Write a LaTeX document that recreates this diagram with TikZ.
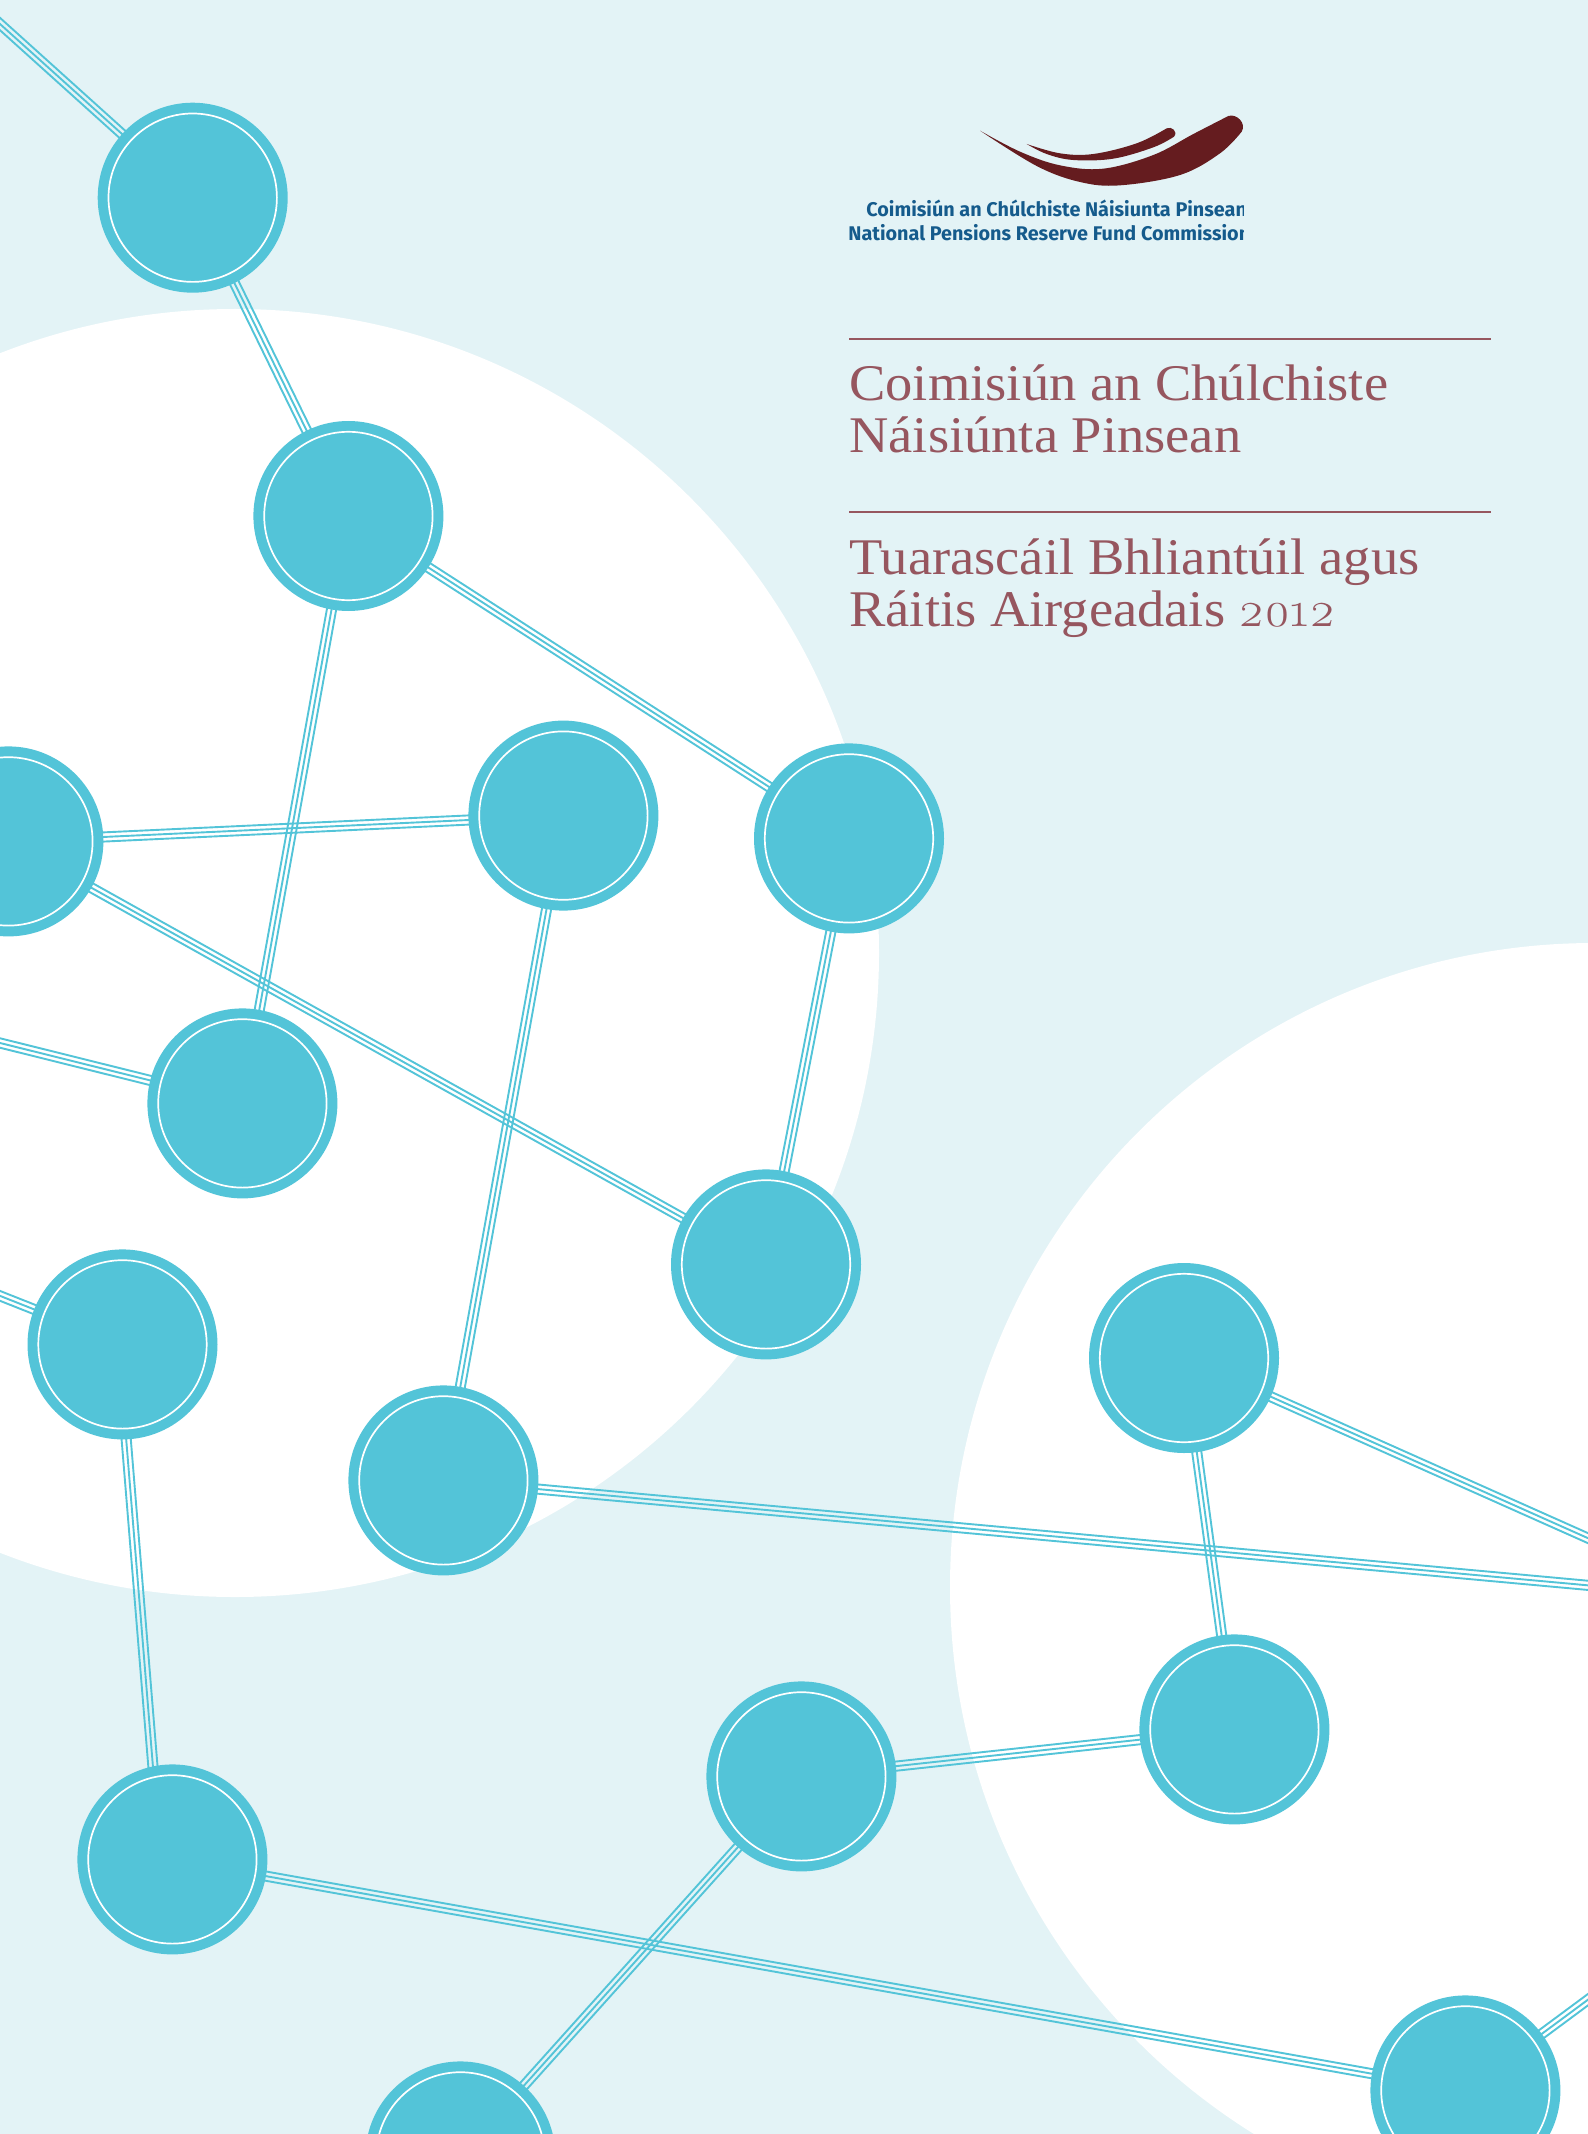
\documentclass[tikz,border=0pt]{standalone}
\usepackage{fontspec}
\usetikzlibrary{calc}
\setmainfont[FakeStretch=1.06]{Liberation Serif}
\newfontfamily\logofont{Fira Sans}
\newfontfamily\osf[Numbers=OldStyle]{Latin Modern Roman}
\definecolor{pale}{HTML}{E3F3F6}
\definecolor{teal}{HTML}{53C4D8}
\definecolor{rose}{HTML}{96565F}
\definecolor{maroon}{HTML}{651C1F}
\definecolor{logoblue}{HTML}{155B8C}
\tikzset{
  hub/.style={circle,fill=teal,draw=none,minimum size=95pt,inner sep=0pt},
  hubring/.style={white,line width=0.85pt},
  strand/.style={teal,line width=0.95pt},
  title/.style={anchor=base west,inner sep=0pt,text=rose,font=\fontsize{25.7pt}{30pt}\selectfont},
  logotext/.style={anchor=base west,inner sep=0pt,text=logoblue,font=\logofont\bfseries\fontsize{9.9pt}{11pt}\selectfont},
  rulebar/.style={rose,line width=1.2pt}
}
\newcommand{\triple}[2]{%
  \draw[strand] ($(#1)!2.3pt!90:(#2)$) -- ($(#2)!2.3pt!-90:(#1)$);
  \draw[strand] (#1) -- (#2);
  \draw[strand] ($(#1)!2.3pt!-90:(#2)$) -- ($(#2)!2.3pt!90:(#1)$);}
\begin{document}
\begin{tikzpicture}[x=0.5pt,y=-0.5pt]
\useasboundingbox (0,0) rectangle (1588,2134);
\clip (0,0) rectangle (1588,2134);
\fill[pale] (0,0) rectangle (1588,2134);
\fill[white] (235,953) circle (322pt);
\fill[white] (1594,1587) circle (322pt);
% free ends
\coordinate (e1) at (-20,6);
\coordinate (e6) at (-40,1033);
\coordinate (e8) at (-40,1280);
\coordinate (e9) at (1628,1589);
\coordinate (e10) at (1628,1556);
\coordinate (e14) at (1628,1970);
\coordinate (h8a) at (118.4,1344);
\coordinate (h13a) at (160.5,1859);
\path
 (192.7,197.7) coordinate (h1)
 (348.4,516) coordinate (h2)
 (8.4,841.4) coordinate (h3)
 (563.4,815.6) coordinate (h4)
 (849,838.4) coordinate (h5)
 (242.4,1103.4) coordinate (h6)
 (766,1264.4) coordinate (h7)
 (122.5,1344.4) coordinate (h8)
 (443.4,1480.4) coordinate (h9)
 (1184,1358) coordinate (h10)
 (1234.4,1729.4) coordinate (h11)
 (801.4,1776.4) coordinate (h12)
 (172.4,1859.4) coordinate (h13)
 (1465.4,2090.4) coordinate (h14)
 (460.4,2156.4) coordinate (h15);
\foreach \a/\b in {e1/h1,h1/h2,h2/h5,h2/h6,h3/h4,h3/h7,h4/h9,h5/h7,e6/h6,e8/h8,h8a/h13a,h9/e9,h10/e10,h10/h11,h11/h12,h12/h15,h13/h14,h14/e14}{
  \triple{\a}{\b}
}
\foreach \n in {1,...,15}{
  \node[hub] (n\n) at (h\n) {};
  \draw[hubring] (n\n.center) circle (42.1pt);
}
% logo
\begin{scope}[shift={(820,90)},x=0.16667pt,y=-0.16667pt]
\fill[maroon] plot[smooth,tension=0.6] coordinates {(480,122) (600,185) (720,226) (850,236) (1000,195) (1120,132) (1225,78)}
  .. controls (1250,70) and (1280,100) .. (1265,125)
  -- plot[smooth,tension=0.6] coordinates {(1265,125) (1200,190) (1080,255) (900,286) (780,276) (650,228) (480,122)} -- cycle;
\fill[maroon] plot[smooth,tension=0.6] coordinates {(620,162) (720,190) (820,192) (950,160) (1040,115)}
  .. controls (1055,108) and (1075,125) .. (1062,140)
  -- plot[smooth,tension=0.6] coordinates {(1062,140) (1000,172) (880,206) (760,210) (680,192) (620,162)} -- cycle;
\end{scope}
\begin{scope}
\clip (840,190) rectangle (1243,250);
\node[logotext] (logoa) at (866,216.5) {Coimisiún an Chúlchiste Náisiunta Pinsean};
\node[logotext] (logob) at (848,240.5) {National Pensions Reserve Fund Commission};
\end{scope}
% title block
\draw[rulebar] (849,339) -- (1491,339);
\draw[rulebar] (849,512) -- (1491,512);
\node[title] (t1) at (849,401) {Coimisiún an Chúlchiste};
\node[title] (t2) at (849,453) {Náisiúnta Pinsean};
\node[title] (t3) at (849,574) {Tuarascáil Bhliantúil agus};
\node[title] (t4) at (849,626) {Ráitis Airgeadais {\osf\fontsize{25pt}{30pt}\selectfont 2012}};
\end{tikzpicture}
\end{document}
